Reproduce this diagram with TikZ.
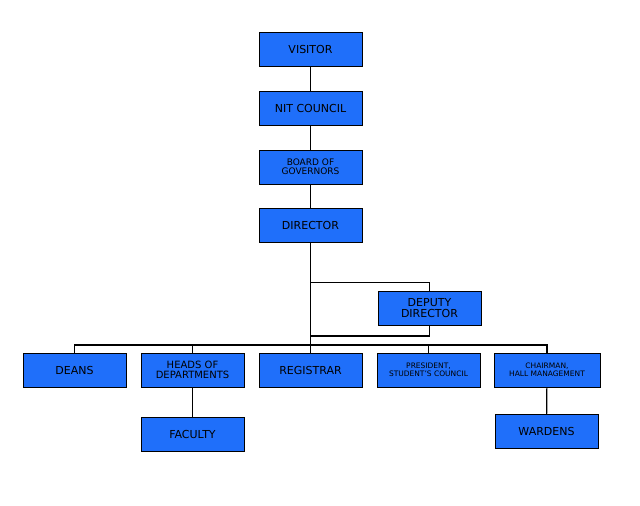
\documentclass[tikz,border=0pt]{standalone}
\usepackage{fontspec}
\setmainfont{DejaVu Sans}
\definecolor{boxblue}{RGB}{31,111,250}
\begin{document}
\begin{tikzpicture}[x=1pt,y=-1pt,
  bx/.style={draw=black,fill=boxblue,minimum width=103pt,minimum height=34pt,inner sep=1pt,align=center,font=\fontsize{11}{11}\selectfont},
  sm/.style={font=\fontsize{9}{9}\selectfont},
  xs/.style={font=\fontsize{7.5}{8}\selectfont},
  ln/.style={line width=1.2pt},
  tn/.style={line width=0.7pt}]
\useasboundingbox (0,0) rectangle (640,506);
\node[bx] (vis) at (310.5,49) {VISITOR};
\node[bx] (nit) at (310.5,108) {NIT COUNCIL};
\node[bx,sm] (bog) at (310.5,167) {BOARD OF\\GOVERNORS};
\node[bx] (dir) at (310.5,225) {DIRECTOR};
\node[bx] (dep) at (429.5,308) {DEPUTY\\DIRECTOR};
\node[bx] (dea) at (74.5,370) {DEANS};
\node[bx,sm,font=\fontsize{10}{10}\selectfont] (hod) at (192.5,370) {HEADS OF\\DEPARTMENTS};
\node[bx] (reg) at (310.5,370) {REGISTRAR};
\node[bx,xs] (pre) at (428.5,370) {PRESIDENT,\\STUDENT'S COUNCIL};
\node[bx,xs,minimum width=106pt] (cha) at (547,370) {CHAIRMAN,\\HALL MANAGEMENT};
\node[bx] (fac) at (192.5,434) {FACULTY};
\node[bx] (war) at (546.5,431) {WARDENS};
\coordinate (bus) at (0,345);
\draw[ln] (vis) -- (nit);
\draw[ln] (nit) -- (bog);
\draw[ln] (bog) -- (dir);
\draw[ln] (dir.south) -- (reg.north);
\draw[tn] (310.5,282) -| (dep.north);
\draw[ln] (dep.south) -- (dep.south |- 0,336) -- (310.5,336);
\draw[ln] (dea.north) |- (bus -| cha.north) -- (cha.north);
\draw[ln] (hod.north) -- (hod.north |- bus);
\draw[ln] (pre.north) -- (pre.north |- bus);
\draw[ln] (hod) -- (fac);
\draw[ln] (cha) -- (war);
\end{tikzpicture}
\end{document}
